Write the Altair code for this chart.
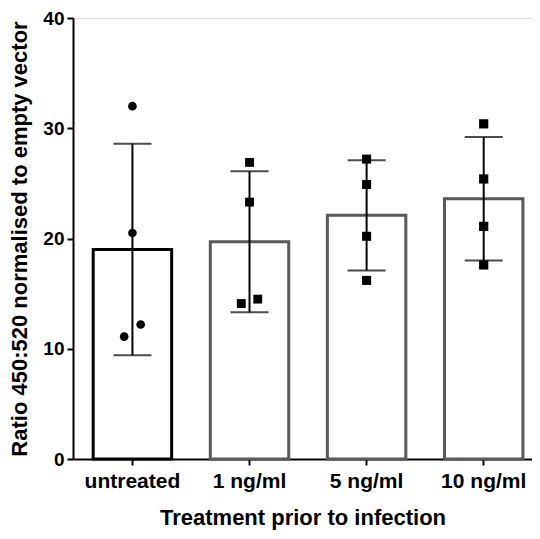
import altair as alt
import pandas as pd

categories = ["untreated", "1 ng/ml", "5 ng/ml", "10 ng/ml"]
means = [19.0, 19.7, 22.1, 23.6]
sds = [9.6, 6.4, 5.0, 5.6]
point_groups = ["untreated"] * 4 + ["1 ng/ml"] * 4 + ["5 ng/ml"] * 4 + ["10 ng/ml"] * 4
point_values = [32.0, 20.5, 12.2, 11.1,
                26.9, 23.3, 14.5, 14.1,
                27.2, 24.9, 20.2, 16.2,
                30.4, 25.4, 21.1, 17.6]
point_side = ["mid", "mid", "right", "left",
              "mid", "mid", "right", "left",
              "mid", "mid", "mid", "mid",
              "mid", "mid", "mid", "mid"]

bars = pd.DataFrame({"group": categories, "mean": means, "sd": sds})
bars["lo"] = bars["mean"] - bars["sd"]
bars["hi"] = bars["mean"] + bars["sd"]
pts = pd.DataFrame({"group": point_groups, "value": point_values, "side": point_side})

FONT = "Liberation Sans"
xscale = alt.Scale(domain=categories, paddingInner=0.33, paddingOuter=0.125, align=0.69)
yscale = alt.Scale(domain=[0, 40], nice=False)

x_enc = alt.X("group:N", scale=xscale, sort=categories,
              axis=alt.Axis(title="Treatment prior to infection", labelAngle=0,
                            labelFont=FONT, labelFontSize=21, labelFontWeight="bold",
                            labelColor="black", labelPadding=5,
                            titleFont=FONT, titleFontSize=22, titleFontWeight="bold",
                            titleColor="black", titlePadding=16,
                            domainColor="black", domainWidth=2,
                            tickColor="black", tickWidth=2, tickSize=6))

y_axis = alt.Axis(title="Ratio 450:520 normalised to empty vector", values=[0, 10, 20, 30, 40],
                  labelFont=FONT, labelFontSize=19, labelFontWeight="bold",
                  labelColor="black", labelPadding=3,
                  titleFont=FONT, titleFontSize=22, titleFontWeight="bold",
                  titleColor="black", titlePadding=11,
                  domainColor="black", domainWidth=2,
                  tickColor="black", tickWidth=2, tickSize=6, grid=False)

bar = alt.Chart(bars).mark_bar(fill="white", strokeWidth=3).encode(
    x=x_enc,
    y=alt.Y("mean:Q", scale=yscale, axis=y_axis),
    stroke=alt.Stroke("group:N", scale=alt.Scale(domain=categories,
                      range=["#000000", "#595959", "#595959", "#595959"]), legend=None),
)

rule = alt.Chart(bars).mark_rule(color="black", strokeWidth=2).encode(
    x=alt.X("group:N", scale=xscale, sort=categories),
    y=alt.Y("lo:Q", scale=yscale),
    y2="hi:Q",
)
cap_hi = alt.Chart(bars).mark_tick(color="black", thickness=2, size=38).encode(
    x=alt.X("group:N", scale=xscale, sort=categories),
    y=alt.Y("hi:Q", scale=yscale),
)
cap_lo = alt.Chart(bars).mark_tick(color="black", thickness=2, size=38).encode(
    x=alt.X("group:N", scale=xscale, sort=categories),
    y=alt.Y("lo:Q", scale=yscale),
)


def point_layer(side, band_pos):
    return alt.Chart(pts).transform_filter(alt.datum.side == side).mark_point(
        filled=True, color="black", opacity=1).encode(
        x=alt.X("group:N", scale=xscale, sort=categories, bandPosition=band_pos),
        y=alt.Y("value:Q", scale=yscale),
        shape=alt.Shape("group:N", scale=alt.Scale(domain=categories,
                        range=["circle", "square", "square", "square"]), legend=None),
        size=alt.Size("group:N", scale=alt.Scale(domain=categories, range=[75, 85, 85, 85]), legend=None),
    )


chart = alt.layer(bar, rule, cap_hi, cap_lo,
                  point_layer("mid", 0.5), point_layer("left", 0.395), point_layer("right", 0.605)).properties(
    width=459, height=441,
    autosize=alt.AutoSizeParams(type="none"),
    padding={"left": 65, "top": 10, "right": 0, "bottom": 72},
).configure_view(stroke=None).configure(background="white")

chart.save("out.html", embed_options={"renderer": "svg", "actions": False})
